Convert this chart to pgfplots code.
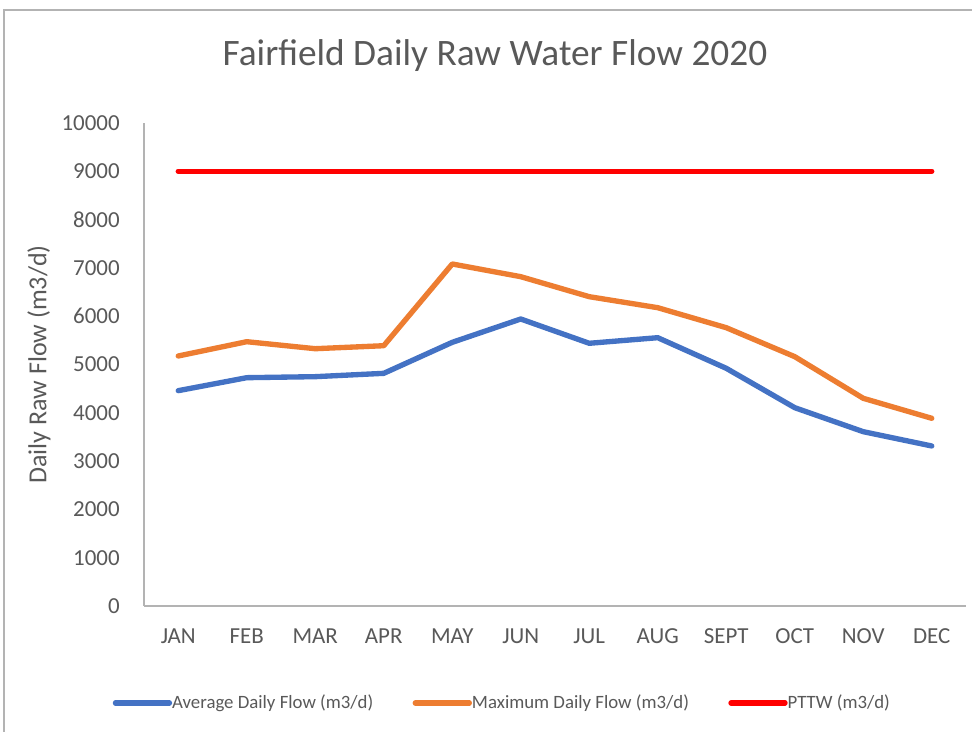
\documentclass[border=0pt]{standalone}
\usepackage{pgfplots}
\pgfplotsset{compat=1.18}
\usepackage{fontspec}
\setmainfont{Carlito}
\definecolor{txt}{HTML}{595959}
\definecolor{axgray}{HTML}{B3B3B3}
\definecolor{cblue}{HTML}{4472C4}
\definecolor{corange}{HTML}{ED7D31}
\definecolor{cred}{HTML}{FF0000}
\begin{document}
\begin{tikzpicture}
\useasboundingbox (0,0) rectangle (729pt,549pt);
\fill[white] (0,0) rectangle (729pt,549pt);
\draw[axgray, line width=0.9pt] (3pt,0pt) -- (3pt,541.5pt) -- (729pt,541.5pt);
\begin{axis}[
  at={(108pt,94.5pt)}, anchor=south west,
  scale only axis, width=616.5pt, height=362.25pt,
  xmin=-0.5, xmax=11.5, ymin=0, ymax=10000,
  axis x line=bottom, axis y line=left,
  axis line style={-, draw=axgray, line width=0.9pt},
  major tick length=0pt,
  xtick={0,...,11},
  xticklabels={JAN,FEB,MAR,APR,MAY,JUN,JUL,AUG,SEPT,OCT,NOV,DEC},
  ytick={0,1000,...,10000},
  scaled y ticks=false,
  /pgf/number format/.cd, fixed, 1000 sep={}, assume math mode=true, /pgfplots/.cd,
  xticklabel style={anchor=base, yshift=-28.5pt, font=\fontsize{17.2}{20}\selectfont, text=txt, inner sep=0pt},
  yticklabel style={anchor=east, inner sep=0pt, xshift=-18pt, font=\fontsize{17.2}{20}\selectfont, text=txt},
  ylabel={Daily Raw Flow (m3/d)},
  ylabel style={at={(axis description cs:-0.1277,0.5)}, anchor=center, rotate=0, font=\fontsize{19.5}{22}\selectfont, text=txt},
  title={Fairfield Daily Raw Water Flow 2020},
  every axis title shift=0pt,
  title style={at={(axis description cs:0.427,1.1186)}, anchor=base, yshift=0pt, font=\fontsize{28}{32}\selectfont, text=txt},
  legend columns=3,
  legend style={at={(axis description cs:-0.0383,-0.2008)}, anchor=west, draw=none, fill=none, inner sep=0pt,
    font=\fontsize{14.1}{16}\selectfont, text=txt,
    nodes={inner xsep=0pt, inner ysep=0pt, anchor=west},
    /tikz/every even column/.append style={column sep=29.5pt}},
  legend image code/.code={\path (0pt,0pt) -- (40.5pt,0pt); \draw[line width=3.75pt, line cap=round, #1] (1.875pt,0pt) -- (39.375pt,0pt);},
  clip=false,
]
\addplot[cblue, line width=4pt, line join=round, line cap=round] coordinates {
(0,4458) (1,4727) (2,4748) (3,4817) (4,5459) (5,5942) (6,5439) (7,5555) (8,4921) (9,4106) (10,3609) (11,3313)};
\addlegendentry{Average Daily Flow (m3/d)}
\addplot[corange, line width=4pt, line join=round, line cap=round] coordinates {
(0,5176) (1,5472) (2,5327) (3,5389) (4,7081) (5,6818) (6,6404) (7,6176) (8,5762) (9,5162) (10,4300) (11,3886)};
\addlegendentry{Maximum Daily Flow (m3/d)}
\addplot[cred, line width=4pt, line cap=round] coordinates {
(0,9000) (1,9000) (2,9000) (3,9000) (4,9000) (5,9000) (6,9000) (7,9000) (8,9000) (9,9000) (10,9000) (11,9000)};
\addlegendentry{PTTW (m3/d)}
\end{axis}
\end{tikzpicture}
\end{document}
